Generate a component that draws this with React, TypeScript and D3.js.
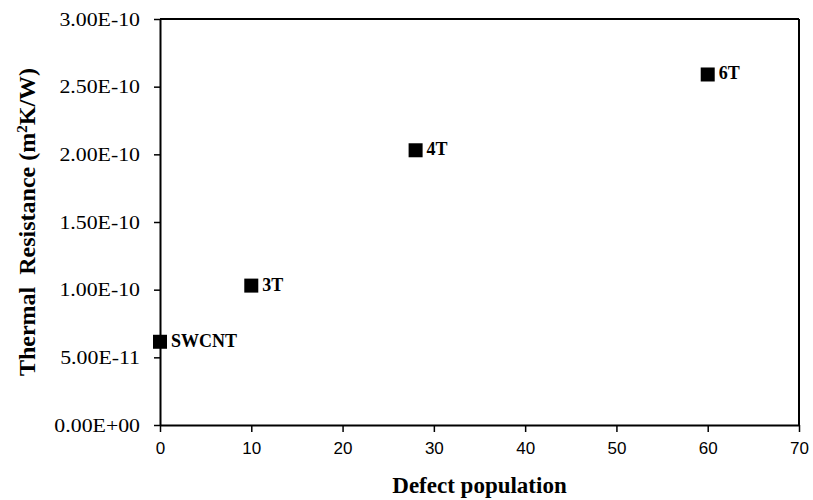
import React, { useRef, useEffect } from "react";
import * as d3 from "d3";

const labels = ["SWCNT", "3T", "4T", "6T"];
const defects = [0, 10, 28, 60];
const resistance = [6.15e-11, 1.03e-10, 2.03e-10, 2.59e-10];
const xTicks = [0, 10, 20, 30, 40, 50, 60, 70];
const yTicks = [0, 5e-11, 1e-10, 1.5e-10, 2e-10, 2.5e-10, 3e-10];
const yTickLabels = ["0.00E+00", "5.00E-11", "1.00E-10", "1.50E-10", "2.00E-10", "2.50E-10", "3.00E-10"];

const width = 813;
const height = 500;
const margin = { top: 19, right: 14, bottom: 75, left: 160 };
const serif = "'Liberation Serif', 'Times New Roman', serif";
const sans = "'Liberation Sans', Arial, sans-serif";

const App = () => {
    const svgRef = useRef<SVGSVGElement>(null);

    useEffect(() => {
        const svg = d3.select(svgRef.current);
        svg.selectAll("*").remove();

        const x = d3.scaleLinear().domain([0, 70]).range([margin.left, width - margin.right]);
        const y = d3.scaleLinear().domain([0, 3e-10]).range([height - margin.bottom, margin.top]);

        svg.append("rect").attr("width", width).attr("height", height).attr("fill", "#fff");

        // x axis
        const gx = svg.append("g")
            .attr("transform", `translate(0,${height - margin.bottom})`)
            .call(d3.axisBottom(x).tickValues(xTicks).tickSize(7).tickPadding(10).tickSizeOuter(0));
        gx.selectAll("text").style("font-family", sans).style("font-size", "17px").attr("fill", "#000");

        // y axis (labels a bit wider than plain Times, like the original)
        const gy = svg.append("g")
            .attr("transform", `translate(${margin.left},0)`)
            .call(d3.axisLeft(y).tickValues(yTicks).tickFormat((d, i) => yTickLabels[i]).tickSize(6).tickPadding(14).tickSizeOuter(0));
        gy.selectAll("text")
            .style("font-family", serif)
            .style("font-size", "19.5px")
            .attr("fill", "#000")
            .attr("transform", "translate(-20,0) scale(1.12,1) translate(20,0)");

        svg.selectAll(".domain").attr("stroke", "#000").attr("stroke-width", 2);
        svg.selectAll(".tick line").attr("stroke", "#000").attr("stroke-width", 1.5);

        // top and right borders
        svg.append("line")
            .attr("x1", x(0)).attr("x2", x(70)).attr("y1", y(3e-10)).attr("y2", y(3e-10))
            .attr("stroke", "#000").attr("stroke-width", 2);
        svg.append("line")
            .attr("x1", x(70)).attr("x2", x(70)).attr("y1", y(3e-10)).attr("y2", y(0))
            .attr("stroke", "#000").attr("stroke-width", 2);

        // points
        const s = 14;
        svg.selectAll(".pt")
            .data(defects)
            .enter()
            .append("rect")
            .attr("class", "pt")
            .attr("x", d => x(d) - s / 2)
            .attr("y", (d, i) => y(resistance[i]) - s / 2)
            .attr("width", s)
            .attr("height", s)
            .attr("fill", "#000");

        svg.selectAll(".lbl")
            .data(labels)
            .enter()
            .append("text")
            .attr("class", "lbl")
            .attr("x", (d, i) => x(defects[i]) + 11)
            .attr("y", (d, i) => y(resistance[i]) + 5)
            .style("font-family", serif)
            .style("font-size", "18px")
            .style("font-weight", "bold")
            .attr("fill", "#000")
            .text(d => d);

        // axis titles
        svg.append("text")
            .attr("x", (margin.left + width - margin.right) / 2)
            .attr("y", 493)
            .attr("text-anchor", "middle")
            .style("font-family", serif)
            .style("font-size", "23px")
            .style("font-weight", "bold")
            .text("Defect population");

        const yt = svg.append("text")
            .attr("transform", `translate(35,${(margin.top + height - margin.bottom) / 2}) rotate(-90)`)
            .attr("text-anchor", "middle")
            .style("font-family", serif)
            .style("font-size", "24px")
            .style("font-weight", "bold")
            .attr("xml:space", "preserve");
        yt.append("tspan").text("Thermal  Resistance (m");
        yt.append("tspan").attr("baseline-shift", "super").style("font-size", "15px").text("2");
        yt.append("tspan").text("K/W)");
    }, []);

    return (
        <div style={{ position: "absolute", left: 0, top: 0 }}>
            <svg ref={svgRef} width={width} height={height} style={{ display: "block" }}></svg>
        </div>
    );
};

export default App;
